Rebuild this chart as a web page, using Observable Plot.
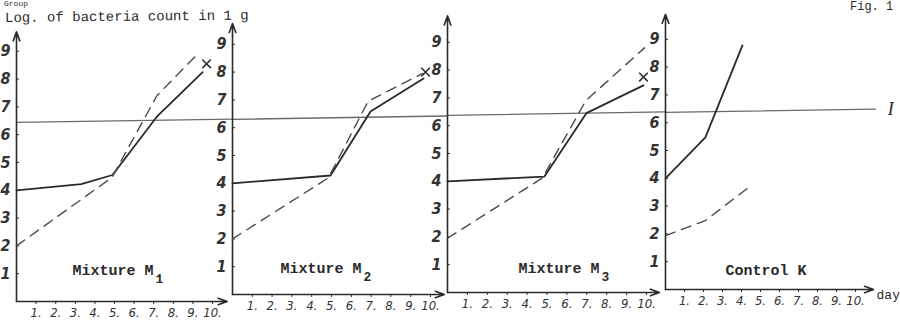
<!DOCTYPE html>
<html><head><meta charset="utf-8">
<script src="https://cdn.jsdelivr.net/npm/d3@7"></script>
<script src="https://cdn.jsdelivr.net/npm/@observablehq/plot@0.6"></script>
<style>
html,body{margin:0;padding:0;background:#fff;}
#fig{position:relative;width:900px;height:322px;overflow:hidden;background:#fff;}
#fig svg{position:absolute;top:0;overflow:visible;background:transparent;}
.txt{position:absolute;font-family:"Liberation Mono","DejaVu Sans Mono",monospace;color:#2b2b2b;white-space:nowrap;font-size:14px;line-height:16px;}
</style></head><body><div id="fig"></div>
<script>
// ---------- data ----------
const panelNames = ["Mixture M", "Mixture M", "Mixture M", "Control K"];
const panelSubs = ["1", "2", "3", ""];
const dayTicks = [1, 2, 3, 4, 5, 6, 7, 8, 9, 10];
const logTicks = [1, 2, 3, 4, 5, 6, 7, 8, 9];

const solidM1 = [{day:0,log:4.0},{day:3.3,log:4.22},{day:4.9,log:4.55},{day:7.2,log:6.68},{day:9.5,log:8.25}];
const dashedM1 = [{day:0,log:2.0},{day:4.87,log:4.46},{day:7.16,log:7.4},{day:9.1,log:8.8}];
const solidM2 = [{day:0,log:4.0},{day:4.95,log:4.28},{day:6.97,log:6.58},{day:9.65,log:7.77}];
const dashedM2 = [{day:0,log:2.0},{day:4.85,log:4.2},{day:6.85,log:6.95},{day:9.6,log:7.95}];
const solidM3 = [{day:0,log:4.0},{day:4.87,log:4.17},{day:6.98,log:6.45},{day:9.85,log:7.45}];
const dashedM3 = [{day:0,log:1.95},{day:4.77,log:4.12},{day:6.95,log:6.9},{day:9.9,log:8.8}];
const solidK = [{day:0,log:4.0},{day:2.1,log:5.47},{day:4.05,log:8.78}];
const dashedK = [{day:0,log:1.94},{day:2.1,log:2.48},{day:4.3,log:3.63}];

const solidSeries = [solidM1, solidM2, solidM3, solidK];
const dashedSeries = [dashedM1, dashedM2, dashedM3, dashedK];

const endMarkDay = [9.7, 9.75, 9.85];
const endMarkLog = [8.55, 8.0, 7.75];

const thresholdLabel = "I";
const thresholdFrom = [6.44, 6.3, 6.37, 6.37];
const thresholdTo = [6.56, 6.42, 6.5, 6.49];

// ---------- layout (pixels / extents) ----------
const layout = [
  {axis:16,  base:301, perDay:19.6, xMax:10.75, yMax:9.7,  thrEnd:11.0,  lab:56, up:26},
  {axis:232, base:294, perDay:19.8, xMax:10.7,  yMax:9.75, thrEnd:10.8,  lab:48, up:21},
  {axis:447, base:292, perDay:19.9, xMax:10.65, yMax:9.95, thrEnd:10.95, lab:71, up:19},
  {axis:665, base:289, perDay:19.0, xMax:10.95, yMax:9.9,  thrEnd:11.05, lab:60, up:14}
];
const yPx = 27.8;
const ink = "#2a2a2a";
const mono = "Liberation Mono, DejaVu Sans Mono, monospace";
const hand = "DejaVu Sans Condensed, DejaVu Sans, sans-serif";

const fig = document.getElementById("fig");

layout.forEach((L, i) => {
  const ml = 34, mr = i === 3 ? 40 : 8;
  const width = ml + L.xMax * L.perDay + mr;
  const marginTop = L.base - L.yMax * yPx;
  const marginBottom = 322 - L.base;

  const axes = [
    {x1:0, y1:0, x2:0, y2:L.yMax},
    {x1:0, y1:0, x2:L.xMax, y2:0}
  ];
  const thr = [{day:0, log:thresholdFrom[i]}, {day:L.thrEnd, log:thresholdTo[i]}];

  const marks = [
    Plot.line(thr, {x:"day", y:"log", stroke:"#6a6a6a", strokeWidth:1.3}),
    Plot.arrow(axes, {x1:"x1", y1:"y1", x2:"x2", y2:"y2", stroke:ink, strokeWidth:1.6, headLength:9, headAngle:40}),
    Plot.axisY(logTicks, {anchor:"left", tickSize:-3, tickPadding:9, fontSize:16, fontStyle:"italic", fontWeight:"bold",
      fontFamily:hand, fill:"#333", stroke:ink, label:null}),
    Plot.axisX(dayTicks, {anchor:"bottom", tickSize:3, tickPadding:3, tickFormat: d => d + ".", fontSize:13,
      fontStyle:"italic", fontFamily:hand, fill:"#333", stroke:ink, label:null}),
    Plot.line(solidSeries[i], {x:"day", y:"log", stroke:ink, strokeWidth:1.8}),
    Plot.line(dashedSeries[i], {x:"day", y:"log", stroke:"#4a4a4a", strokeWidth:1.4, strokeDasharray:"10,7"}),
    Plot.text([panelNames[i]], {text: d => d, frameAnchor:"bottom-left", dx:L.lab, dy:-L.up, textAnchor:"start",
      fontFamily:mono, fontWeight:"bold", fontSize:15, fill:ink}),
  ];
  if (panelSubs[i]) {
    marks.push(Plot.text([panelSubs[i]], {text: d => d, frameAnchor:"bottom-left", dx:L.lab + 83, dy:-L.up + 8,
      textAnchor:"start", fontFamily:mono, fontWeight:"bold", fontSize:13, fill:ink}));
  }
  if (i < 3) {
    marks.push(Plot.dot([{day:endMarkDay[i], log:endMarkLog[i]}], {x:"day", y:"log", symbol:"times", r:4,
      stroke:ink, strokeWidth:1.5}));
  }
  if (i === 3) {
    marks.push(Plot.text(["day"], {text: d => d, frameAnchor:"bottom-right", dx:3, dy:10, textAnchor:"start",
      fontFamily:mono, fontSize:13, fill:ink}));
    marks.push(Plot.text([thresholdLabel], {text: d => d, x:11.7, y:thresholdTo[3], textAnchor:"start",
      fontFamily:"Liberation Serif, DejaVu Serif, serif", fontStyle:"italic", fontSize:18, fill:ink}));
  }

  const svg = Plot.plot({
    width, height:322, marginLeft:ml, marginRight:mr, marginTop, marginBottom,
    x:{domain:[0, L.xMax], label:null},
    y:{domain:[0, L.yMax], label:null},
    style:{background:"transparent", overflow:"visible", color:ink},
    marks
  });
  svg.style.left = (L.axis - ml) + "px";
  fig.appendChild(svg);
});

function addText(str, left, top, extra) {
  const d = document.createElement("div");
  d.className = "txt";
  d.textContent = str;
  d.style.left = left + "px";
  d.style.top = top + "px";
  if (extra) Object.assign(d.style, extra);
  fig.appendChild(d);
}
addText("Group", 4, 0, {fontSize:"8px", lineHeight:"8px"});
addText("Log. of bacteria count in 1 g", 5, 10, {transform:"rotate(-0.6deg)", transformOrigin:"left center"});
addText("Fig. 1", 850, 1, {fontSize:"12px", lineHeight:"12px"});
</script>
</body></html>
